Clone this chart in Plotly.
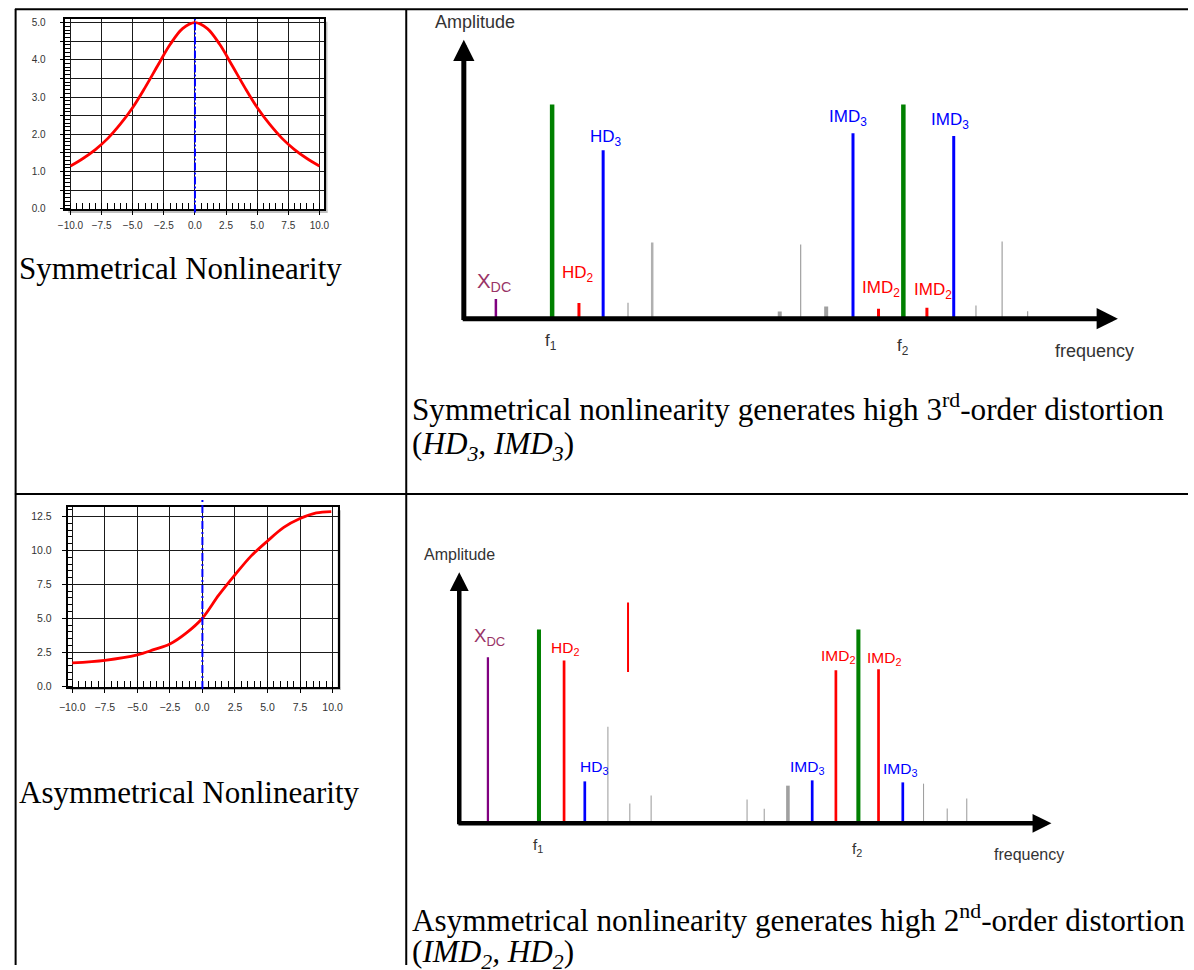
import plotly.graph_objects as go

W, H = 1194, 970


def fx(p):
    """Horizontal pixel -> paper fraction."""
    return p / W


def fy(p):
    """Vertical pixel (from top) -> paper fraction."""
    return 1 - p / H


# ---------------- transfer curves ----------------
sym_x = [-10, -9, -8, -7, -6, -5, -4, -3, -2, -1, 0, 1, 2, 3, 4, 5, 6, 7, 8, 9, 10]
sym_y = [1.15, 1.35, 1.59, 1.89, 2.27, 2.72, 3.26, 3.84, 4.41, 4.84, 5.0,
         4.84, 4.41, 3.84, 3.26, 2.72, 2.27, 1.89, 1.59, 1.35, 1.15]

asym_x = [-10, -7.5, -5, -3.75, -2.5, -1.25, 0, 1.25, 2.5, 3.75, 5, 6.25, 7.5, 8.75, 9.9]
asym_y = [1.7, 1.9, 2.3, 2.68, 3.1, 3.9, 5.0, 6.7, 8.2, 9.6, 10.7, 11.7, 12.35, 12.77, 12.87]

sym_yticks = [0, 0.5, 1, 1.5, 2, 2.5, 3, 3.5, 4, 4.5, 5]
sym_yticktext = ["0.0", "", "1.0", "", "2.0", "", "3.0", "", "4.0", "", "5.0"]
asym_yticks = [0, 2.5, 5, 7.5, 10, 12.5]
asym_yticktext = ["0.0", "2.5", "5.0", "7.5", "10.0", "12.5"]

# ---------------- spectra ----------------
# symmetrical case
sym_freq = [4.9, 13.5, 17.6, 21.3, 25.1, 28.8, 48.3, 51.5, 55.4, 59.5, 63.4, 67.2, 70.8, 74.9, 78.3, 82.3, 86.2]
sym_amp = [7.1, 76.8, 5.6, 60.4, 5.7, 27.3, 2.6, 26.6, 4.4, 66.5, 3.6, 76.8, 3.9, 65.5, 4.7, 27.7, 2.7]
sym_kind = ["dc", "fund", "order2", "order3", "other", "other_wide", "other_bold", "other", "other_bold",
            "order3", "order2", "fund", "order2", "order3", "other", "other", "other"]

sym_lbl_text = ["X<sub>DC</sub>", "HD<sub>2</sub>", "HD<sub>3</sub>", "IMD<sub>3</sub>",
                "IMD<sub>2</sub>", "IMD<sub>2</sub>", "IMD<sub>3</sub>"]
sym_lbl_kind = ["dc", "order2", "order3", "order3", "order2", "order2", "order3"]
sym_lbl_x = [4.6, 17.4, 21.8, 58.7, 63.8, 71.7, 74.4]
sym_lbl_y = [12.8, 16.0, 64.8, 71.9, 10.7, 10.0, 70.8]
sym_tone_x = [13.3, 67.1]
sym_tone_y = [-8.5, -10.3]

# asymmetrical case
asym_freq = [4.84, 13.46, 17.7, 21.2, 25.1, 28.8, 32.4, 48.6, 51.5, 55.5, 59.6, 63.6, 67.4, 70.8, 74.9, 78.4, 82.4, 85.7]
asym_amp = [66.1, 77.2, 64.8, 16.7, 38.5, 7.9, 11.1, 9.5, 5.8, 15.0, 17.1, 60.9, 77.2, 61.3, 16.3, 15.8, 5.9, 9.9]
asym_kind = ["dc", "fund", "order2", "order3", "other", "other", "other", "other", "other", "other_bold",
             "order3", "order2", "fund", "order2", "order3", "other", "other", "other"]
asym_extra_x = [28.5]
asym_extra_lo = [60.2]
asym_extra_hi = [87.9]

asym_lbl_text = ["X<sub>DC</sub>", "HD<sub>2</sub>", "HD<sub>3</sub>", "IMD<sub>3</sub>",
                 "IMD<sub>2</sub>", "IMD<sub>2</sub>", "IMD<sub>3</sub>"]
asym_lbl_kind = ["dc", "order2", "order3", "order3", "order2", "order2", "order3"]
asym_lbl_x = [5.05, 17.9, 22.7, 58.8, 63.9, 71.8, 74.5]
asym_lbl_y = [74.3, 69.8, 22.4, 22.4, 66.4, 65.8, 21.3]
asym_tone_x = [13.3, 67.1]
asym_tone_y = [-9.0, -10.6]

tone_names = ["f<sub>1</sub>", "f<sub>2</sub>"]

# line styles per spectral component type: (colour, width)
SPIKE_STYLE = {
    "dc": ("#800080", 2.5),
    "fund": ("#008000", 4.5),
    "order2": ("#ff0000", 3),
    "order3": ("#0000ff", 3),
    "other": ("#a0a0a0", 1.2),
    "other_wide": ("#b0b0b0", 2.5),
    "other_bold": ("#a0a0a0", 4),
}
LABEL_COLOR = {"dc": "#993366", "order2": "#ff0000", "order3": "#0000ff"}
LABEL_SCALE = {"dc": 1.2, "order2": 1.0, "order3": 1.0}

SANS = "Liberation Sans, Arial, sans-serif"
SERIF = "Liberation Serif, Times New Roman, serif"

fig = go.Figure()

# transfer curves
fig.add_trace(go.Scatter(x=sym_x, y=sym_y, mode="lines",
                         line=dict(color="#ff0000", width=2.8, shape="spline"),
                         xaxis="x", yaxis="y", hoverinfo="skip"))
fig.add_trace(go.Scatter(x=asym_x, y=asym_y, mode="lines",
                         line=dict(color="#ff0000", width=2.8, shape="spline", smoothing=0.9),
                         xaxis="x3", yaxis="y3", hoverinfo="skip"))


def add_spectrum(freq, amp, kind, xa, ya, scale):
    for k, (col, wid) in SPIKE_STYLE.items():
        xs, ys = [], []
        for f, a, kk in zip(freq, amp, kind):
            if kk == k:
                xs += [f, f, None]
                ys += [0, a, None]
        if xs:
            fig.add_trace(go.Scatter(x=xs, y=ys, mode="lines", line=dict(color=col, width=wid * scale),
                                     xaxis=xa, yaxis=ya, hoverinfo="skip"))


add_spectrum(sym_freq, sym_amp, sym_kind, "x2", "y2", 1.0)
add_spectrum(asym_freq, asym_amp, asym_kind, "x4", "y4", 0.9)

xs, ys = [], []
for f, lo, hi in zip(asym_extra_x, asym_extra_lo, asym_extra_hi):
    xs += [f, f, None]
    ys += [lo, hi, None]
fig.add_trace(go.Scatter(x=xs, y=ys, mode="lines", line=dict(color="#ff0000", width=2),
                         xaxis="x4", yaxis="y4", hoverinfo="skip"))

annotations = []


def spectrum_text(xa, ya, lbl_text, lbl_kind, lbl_x, lbl_y, tone_x, tone_y, fs, fs_axis,
                  amp_pos, freq_pos, head_w, head_size):
    for t, k, x, y in zip(lbl_text, lbl_kind, lbl_x, lbl_y):
        annotations.append(dict(x=x, y=y, xref=xa, yref=ya, text=t, showarrow=False,
                                font=dict(family=SANS, size=fs * LABEL_SCALE[k], color=LABEL_COLOR[k])))
    for t, x, y in zip(tone_names, tone_x, tone_y):
        annotations.append(dict(x=x, y=y, xref=xa, yref=ya, text=t, showarrow=False,
                                font=dict(family=SANS, size=fs, color="#333333")))
    annotations.append(dict(x=amp_pos[0], y=amp_pos[1], xref=xa, yref=ya, text="Amplitude", showarrow=False,
                            font=dict(family=SANS, size=fs_axis, color="#333333")))
    annotations.append(dict(x=freq_pos[0], y=freq_pos[1], xref=xa, yref=ya, text="frequency", showarrow=False,
                            font=dict(family=SANS, size=fs_axis, color="#333333")))
    # axis arrows
    annotations.append(dict(x=0, y=100, ax=0, ay=-1.0, xref=xa, yref=ya, axref=xa, ayref=ya, text="",
                            showarrow=True, arrowhead=2, arrowwidth=head_w, arrowsize=head_size,
                            arrowcolor="black"))
    annotations.append(dict(x=100, y=0, ax=-0.4, ay=0, xref=xa, yref=ya, axref=xa, ayref=ya, text="",
                            showarrow=True, arrowhead=2, arrowwidth=head_w, arrowsize=head_size,
                            arrowcolor="black"))


spectrum_text("x2", "y2", sym_lbl_text, sym_lbl_kind, sym_lbl_x, sym_lbl_y, sym_tone_x, sym_tone_y,
              17, 18, (1.66, 106.4), (96.5, -11.6), 5, 0.85)
spectrum_text("x4", "y4", asym_lbl_text, asym_lbl_kind, asym_lbl_x, asym_lbl_y, asym_tone_x, asym_tone_y,
              15.5, 16, (0.03, 107.2), (96.2, -12.3), 4.5, 0.84)

# captions
annotations += [
    dict(x=fx(8), y=fy(268), xref="paper", yref="paper", xanchor="left", yanchor="middle",
         text="Symmetrical Nonlinearity", showarrow=False, font=dict(family=SERIF, size=31, color="black")),
    dict(x=fx(8), y=fy(796), xref="paper", yref="paper", xanchor="left", yanchor="middle",
         text="Asymmetrical Nonlinearity", showarrow=False, font=dict(family=SERIF, size=31, color="black")),
    dict(x=fx(406), y=fy(408), xref="paper", yref="paper", xanchor="left", yanchor="middle",
         text="Symmetrical nonlinearity generates high 3<sup>rd</sup>-order distortion", showarrow=False,
         font=dict(family=SERIF, size=31.2, color="black")),
    dict(x=fx(406), y=fy(447), xref="paper", yref="paper", xanchor="left", yanchor="middle",
         text="(<i>HD<sub>3</sub>, IMD<sub>3</sub></i>)", showarrow=False,
         font=dict(family=SERIF, size=31.2, color="black")),
    dict(x=fx(406), y=fy(923), xref="paper", yref="paper", xanchor="left", yanchor="middle",
         text="Asymmetrical nonlinearity generates high 2<sup>nd</sup>-order distortion", showarrow=False,
         font=dict(family=SERIF, size=31.2, color="black")),
    dict(x=fx(406), y=fy(959), xref="paper", yref="paper", xanchor="left", yanchor="middle",
         text="(<i>IMD<sub>2</sub>, HD<sub>2</sub></i>)", showarrow=False,
         font=dict(family=SERIF, size=31.2, color="black")),
]

shapes = []
# table rules
for x0, y0, x1, y1 in [(6, 7.3, W, 7.3), (6.7, 7, 6.7, H), (402.3, 7, 402.3, H), (6, 495.7, W, 495.7)]:
    shapes.append(dict(type="line", xref="paper", yref="paper", x0=fx(x0), y0=fy(y0), x1=fx(x1), y1=fy(y1),
                       line=dict(color="black", width=2)))

# drop shadows behind the two small graphs
for l, t, r, b in [(319, 20, 322.5, 212.5), (60, 209, 322.5, 212.5),
                   (332.7, 512, 336, 693), (62, 690, 336, 693)]:
    shapes.append(dict(type="rect", xref="paper", yref="paper", x0=fx(l), x1=fx(r), y0=fy(b), y1=fy(t),
                       fillcolor="#c0c0c0", line=dict(width=0), layer="below"))

# bias point markers (x = 0)
shapes.append(dict(type="line", xref="x", yref="paper", x0=0, x1=0, y0=fy(212), y1=fy(17),
                   line=dict(color="#0000ff", width=2, dash="8px,2px,2px,2px")))
shapes.append(dict(type="line", xref="x3", yref="paper", x0=0, x1=0, y0=fy(692), y1=fy(499),
                   line=dict(color="#0000ff", width=2, dash="8px,3px,2px,3px")))

grid = "#1a1a1a"
tickfont_s = dict(family=SANS, size=10, color="#333333")
tickfont_a = dict(family=SANS, size=10.5, color="#333333")

common_frame = dict(showline=True, mirror=True, linecolor="black", linewidth=1.5, zeroline=False,
                    showgrid=True, gridcolor=grid, gridwidth=1, ticks="outside", ticklen=4,
                    tickcolor="black")

fig.update_layout(
    width=W, height=H, autosize=False,
    margin=dict(l=0, r=0, t=0, b=0),
    paper_bgcolor="white", plot_bgcolor="white",
    showlegend=False,
    xaxis=dict(domain=[fx(57), fx(319)], range=[-10.42, 10.37], anchor="y",
               tickmode="linear", tick0=-10, dtick=2.5, tickformat=".1f", tickfont=tickfont_s,
               ticklabelstandoff=2,
               minor=dict(ticks="inside", ticklen=7, tickmode="linear", tick0=-10, dtick=0.5,
                          tickcolor="black", showgrid=False),
               **common_frame),
    yaxis=dict(domain=[fy(209), fy(17)], range=[-0.02, 5.1], anchor="x",
               tickmode="array", tickvals=sym_yticks, ticktext=sym_yticktext, tickfont=tickfont_s,
               ticklabelstandoff=12,
               minor=dict(ticks="inside", ticklen=5, tickmode="linear", tick0=0, dtick=0.1,
                          tickcolor="black", showgrid=False),
               **common_frame),
    xaxis3=dict(domain=[fx(59.3), fx(332.7)], range=[-10.36, 10.38], anchor="y3",
                tickmode="linear", tick0=-10, dtick=2.5, tickformat=".1f", tickfont=tickfont_a,
                ticklabelstandoff=6,
                minor=dict(ticks="inside", ticklen=6, tickmode="linear", tick0=-10, dtick=0.5,
                           tickcolor="black", showgrid=False),
                **common_frame),
    yaxis3=dict(domain=[fy(690), fy(509)], range=[-0.073, 13.18], anchor="x3",
                tickmode="array", tickvals=asym_yticks, ticktext=asym_yticktext, tickfont=tickfont_a,
                ticklabelstandoff=8,
                minor=dict(ticks="inside", ticklen=5, tickmode="linear", tick0=0, dtick=0.5,
                           tickcolor="black", showgrid=False),
                **common_frame),
    # spectrum axes: origin of the arrows sits at (0, 0)
    xaxis2=dict(domain=[fx(427.5), fx(1123)], range=[-5, 100], anchor="y2", visible=False),
    yaxis2=dict(domain=[fy(361.15), fy(9.9)], range=[-15, 110], anchor="x2", visible=False),
    xaxis4=dict(domain=[fx(426.0), fx(1055.7)], range=[-5, 100], anchor="y4", visible=False),
    yaxis4=dict(domain=[fy(865.25), fy(549.0)], range=[-15, 110], anchor="x4", visible=False),
    annotations=annotations,
    shapes=shapes,
)

fig.write_html("out.html")
